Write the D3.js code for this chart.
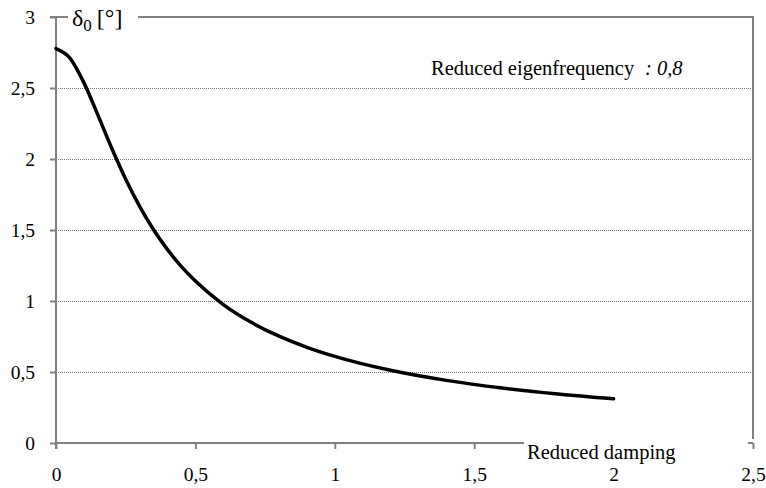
<!DOCTYPE html>
<html>
<head>
<meta charset="utf-8">
<script src="https://cdn.jsdelivr.net/npm/d3@7"></script>
<style>
  body { margin: 0; background: #fff; }
</style>
</head>
<body>
<svg id="chart"></svg>
<script>
// reduced damping values and the response delta_0
var damping = [0, 0.05, 0.1, 0.15, 0.2, 0.25, 0.3, 0.35, 0.4, 0.45, 0.5, 0.6, 0.7, 0.8, 0.9, 1.0, 1.2, 1.4, 1.6, 1.8, 2.0];
var delta0 = [2.778, 2.711, 2.538, 2.311, 2.076, 1.858, 1.667, 1.502, 1.362, 1.242, 1.140, 0.975, 0.850, 0.752, 0.674, 0.610, 0.512, 0.441, 0.387, 0.345, 0.311];
var xTicks = [0, 0.5, 1, 1.5, 2, 2.5];
var yTicks = [0, 0.5, 1, 1.5, 2, 2.5, 3];

var width = 766, height = 488;
var serif = "'Liberation Serif', 'Times New Roman', serif";
var svg = d3.select('#chart').attr('width', width).attr('height', height);

var x = d3.scaleLinear().domain([0, 2.5]).range([56, 753]);
var y = d3.scaleLinear().domain([0, 3]).range([443, 17]);
var fmt = function(d) { return String(d).replace('.', ','); };
var axisColor = '#808080';

// dotted grid lines
svg.append('g').selectAll('line')
  .data(yTicks.filter(function(d) { return d > 0 && d < 3; }))
  .enter().append('line')
  .attr('x1', x(0)).attr('x2', x(2.5))
  .attr('y1', function(d) { return y(d) + 0.5; })
  .attr('y2', function(d) { return y(d) + 0.5; })
  .attr('stroke', '#777').attr('stroke-width', 1).attr('stroke-dasharray', '1,1');

// y axis
var yAxis = svg.append('g')
  .attr('transform', 'translate(' + x(0) + ',0)')
  .call(d3.axisLeft(y).tickValues(yTicks).tickFormat(fmt).tickSize(6).tickPadding(15));
yAxis.attr('font-family', null).attr('font-size', null);
yAxis.select('.domain').attr('stroke', axisColor).attr('stroke-width', 2)
  .attr('d', 'M0,' + y(3) + 'V' + (y(0) + 6));
yAxis.selectAll('.tick line').attr('stroke', axisColor).attr('stroke-width', 2);
yAxis.selectAll('.tick text').style('font-family', serif).style('font-size', '19.5px').attr('fill', '#000');

// x axis
var xAxis = svg.append('g')
  .attr('transform', 'translate(0,' + y(0) + ')')
  .call(d3.axisBottom(x).tickValues(xTicks).tickFormat(fmt).tickSize(6).tickPadding(18));
xAxis.attr('font-family', null).attr('font-size', null);
xAxis.select('.domain').attr('stroke', axisColor).attr('stroke-width', 2)
  .attr('d', 'M' + x(0) + ',0H' + x(2.5));
xAxis.selectAll('.tick line').attr('stroke', axisColor).attr('stroke-width', 2);
xAxis.selectAll('.tick text').style('font-family', serif).style('font-size', '19.5px').attr('fill', '#000');

// top and right frame
svg.append('path')
  .attr('d', 'M' + (x(0) - 6) + ',' + y(3) + 'H' + x(2.5) + 'V' + (y(0) - 4))
  .attr('fill', 'none').attr('stroke', axisColor).attr('stroke-width', 2);

// curve
var line = d3.line()
  .x(function(d, i) { return x(damping[i]); })
  .y(function(d) { return y(d); })
  .curve(d3.curveMonotoneX);
svg.append('path')
  .datum(delta0)
  .attr('d', line)
  .attr('fill', 'none').attr('stroke', '#000').attr('stroke-width', 3.5)
  .attr('stroke-linecap', 'round');

// y axis title, boxed over the frame
svg.append('rect').attr('x', 68).attr('y', 3).attr('width', 70).attr('height', 30).attr('fill', '#fff');
var yt = svg.append('text').attr('x', 72).attr('y', 26)
  .style('font-family', serif).style('font-size', '24px');
yt.append('tspan').text('\u03b4');
yt.append('tspan').attr('dy', 5).style('font-size', '17px').text('0');
yt.append('tspan').attr('dy', -5).attr('dx', 5).text('[\u00b0]');

// x axis title, boxed over the axis line
svg.append('rect').attr('x', 524).attr('y', 440).attr('width', 224).attr('height', 24).attr('fill', '#fff');
svg.append('text').attr('x', 527).attr('y', 459)
  .style('font-family', serif).style('font-size', '20.5px').text('Reduced damping');

// annotation
svg.append('text').attr('x', 431).attr('y', 75)
  .style('font-family', serif).style('font-size', '20.5px')
  .text('Reduced eigenfrequency');
svg.append('text').attr('x', 645).attr('y', 75)
  .style('font-family', serif).style('font-size', '20.5px').style('font-style', 'italic')
  .text(': 0,8');
</script>
</body>
</html>
